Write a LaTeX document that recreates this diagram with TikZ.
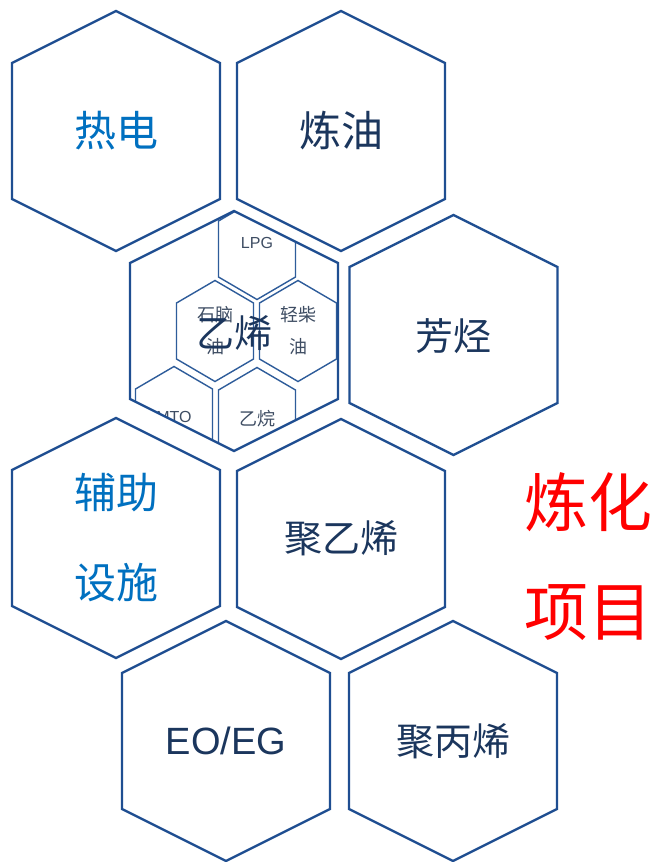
\documentclass[tikz,border=0pt]{standalone}
\usepackage{fontspec}
\setmainfont{Noto Sans CJK SC}
\newfontfamily\latinf{Liberation Sans}
\definecolor{hexblue}{HTML}{1F4E91}
\definecolor{hexlight}{HTML}{2E5C9A}
\definecolor{navy}{HTML}{1B365D}
\definecolor{lblue}{HTML}{0070C0}
\definecolor{smalltxt}{HTML}{3E4D63}
\newcommand{\myhex}[5]{(#1-#3,#2-#5) -- (#1,#2-#4) -- (#1+#3,#2-#5) -- (#1+#3,#2+#5) -- (#1,#2+#4) -- (#1-#3,#2+#5) -- cycle}
\tikzset{
  bighex/.style={draw=hexblue, line width=2.4pt, line join=miter, fill=white},
  smallhex/.style={draw=hexlight, line width=1.4pt, line join=miter},
  lbl/.style={inner sep=0pt, text=navy, font=\fontsize{38}{46}\selectfont},
  lblbig/.style={inner sep=0pt, text=navy, font=\fontsize{42}{50}\selectfont},
  lblblue/.style={inner sep=0pt, text=lblue, align=center, font=\fontsize{42}{90}\selectfont},
  small/.style={inner sep=0pt, text=smalltxt, align=center, font=\fontsize{18}{32}\selectfont},
  smalllat/.style={inner sep=0pt, text=smalltxt, font=\latinf\fontsize{16}{20}\selectfont},
  title/.style={inner sep=0pt, text=red, align=center, font=\fontsize{64}{109}\selectfont}
}
\begin{document}
\begin{tikzpicture}[x=1pt, y=-1pt]
\useasboundingbox (0,0) rectangle (659,862);
% outer hexagons
\draw[bighex] \myhex{116}{131}{104}{120}{68};
\draw[bighex] \myhex{341}{131}{104}{120}{68};
\draw[bighex] \myhex{453.5}{335}{104}{120}{68};
\draw[bighex] \myhex{116}{538}{104}{120}{68};
\draw[bighex] \myhex{341}{539}{104}{120}{68};
\draw[bighex] \myhex{226}{741}{104}{120}{68};
\draw[bighex] \myhex{453}{741}{104}{120}{68};
% ethylene hexagon with inner hexagons
\fill[white] \myhex{234}{331}{104}{120}{68};
\begin{scope}
\clip \myhex{234}{331}{104}{120}{68};
\draw[smallhex] \myhex{257}{249}{38.5}{50.5}{28};
\draw[smallhex] \myhex{215}{331}{38.5}{50.5}{28};
\draw[smallhex] \myhex{298}{331}{38.5}{50.5}{28};
\draw[smallhex] \myhex{174}{417}{38.5}{50.5}{28};
\draw[smallhex] \myhex{257}{418}{38.5}{50.5}{28};
\node[smalllat] (lpg) at (257,243) {LPG};
\node[small] (naphtha) at (215,331) {石脑\\油};
\node[small] (diesel) at (298,331) {轻柴\\油};
\node[smalllat] (mto) at (174,417) {MTO};
\node[small] (ethane) at (257,419) {乙烷};
\end{scope}
\draw[bighex, fill=none] \myhex{234}{331}{104}{120}{68};
% labels
\node[lblblue] (redian) at (116,131) {热电};
\node[lblbig] (lianyou) at (341,131) {炼油};
\node[lbl] (yixi) at (234,333) {乙烯};
\node[lbl] (fangting) at (453.5,336) {芳烃};
\node[lblblue] (fuzhu) at (116,538) {辅助\\设施};
\node[lbl] (juyixi) at (341,538) {聚乙烯};
\node[lbl, font=\latinf\fontsize{38}{46}\selectfont] (eoeg) at (226,741) {EO/EG};
\node[lbl] (jubingxi) at (453,741) {聚丙烯};
\node[title] (lianhua) at (588,557) {炼化\\项目};
\end{tikzpicture}
\end{document}
